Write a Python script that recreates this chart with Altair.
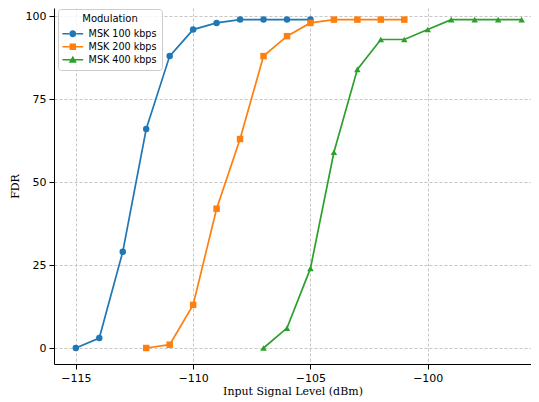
import altair as alt
import pandas as pd

series = ["MSK 100 kbps", "MSK 200 kbps", "MSK 400 kbps"]
colors = ["#1f77b4", "#ff7f0e", "#2ca02c"]
shapes = ["circle", "square", "triangle-up"]

x_100 = [-115, -114, -113, -112, -111, -110, -109, -108, -107, -106, -105]
fdr_100 = [0, 3, 29, 66, 88, 96, 98, 99, 99, 99, 99]
x_200 = [-112, -111, -110, -109, -108, -107, -106, -105, -104, -103, -102, -101]
fdr_200 = [0, 1, 13, 42, 63, 88, 94, 98, 99, 99, 99, 99]
x_400 = [-107, -106, -105, -104, -103, -102, -101, -100, -99, -98, -97, -96]
fdr_400 = [0, 6, 24, 59, 84, 93, 93, 96, 99, 99, 99, 99]

x_ticks = [-115, -110, -105, -100]
y_ticks = [0, 25, 50, 75, 100]

rows = []
for name, xs, ys in [(series[0], x_100, fdr_100), (series[1], x_200, fdr_200), (series[2], x_400, fdr_400)]:
    for i, (xv, yv) in enumerate(zip(xs, ys)):
        rows.append({"Modulation": name, "x": xv, "FDR": yv, "order": i})
df = pd.DataFrame(rows)

# legend symbols: line segment + marker (custom paths)
leg_paths = [
    "M-2.6,-0.19H-0.8V0.19H-2.6Z M0.8,-0.19H2.6V0.19H0.8Z M-0.875,0A0.875,0.875 0 1,0 0.875,0A0.875,0.875 0 1,0 -0.875,0Z",
    "M-2.6,-0.19H-0.8V0.19H-2.6Z M0.8,-0.19H2.6V0.19H0.8Z M-0.8,-0.8H0.8V0.8H-0.8Z",
    "M-2.6,-0.19H-0.5V0.19H-2.6Z M0.5,-0.19H2.6V0.19H0.5Z M0,-1L1,0.75L-1,0.75Z",
]

xscale = alt.Scale(domain=[-115.93, -95.6], nice=False, zero=False)
yscale = alt.Scale(domain=[-4.82, 102.5], nice=False, zero=False)
cscale = alt.Scale(domain=series, range=colors)

xenc = alt.X("x:Q", scale=xscale, title="Input Signal Level (dBm)",
             axis=alt.Axis(values=x_ticks, format="d"))
yenc = alt.Y("FDR:Q", scale=yscale, title="FDR",
             axis=alt.Axis(values=y_ticks, format="d"))

base = alt.Chart(df)

lines = base.mark_line(strokeWidth=1.7, clip=True).encode(
    x=xenc, y=yenc,
    color=alt.Color("Modulation:N", scale=cscale, legend=None),
    order="order:Q",
)

points = base.mark_point(filled=True, opacity=1, size=42).encode(
    x=xenc, y=yenc,
    color=alt.Color("Modulation:N", scale=cscale, legend=None),
    shape=alt.Shape("Modulation:N", scale=alt.Scale(domain=series, range=shapes), legend=None),
)

leg = alt.Legend(
    orient="none", legendX=4, legendY=1, title="Modulation",
    titleAnchor="middle", titleFont="DejaVu Sans", titleFontSize=10,
    titleFontWeight="normal", titleColor="black",
    labelFont="DejaVu Sans", labelFontSize=9.6, labelColor="black",
    symbolSize=64, symbolOffset=5, labelOffset=11,
    fillColor="rgba(255,255,255,0.8)", strokeColor="#cccccc",
    cornerRadius=3, padding=5, rowPadding=2, symbolStrokeWidth=0,
)

legend_layer = base.transform_filter("false").transform_calculate(
    Legend="datum.Modulation"
).mark_point(filled=True, opacity=1).encode(
    x=xenc, y=yenc,
    color=alt.Color("Legend:N", scale=alt.Scale(domain=series, range=colors), legend=leg),
    shape=alt.Shape("Legend:N", scale=alt.Scale(domain=series, range=leg_paths), legend=leg),
)

chart = alt.layer(lines, points, legend_layer).resolve_scale(
    color="independent", shape="independent"
).properties(
    width=477, height=356,
    autosize=alt.AutoSizeParams(type="none"),
    padding={"left": 46, "top": 0, "right": 0, "bottom": 38},
).configure_view(stroke=None).configure_axis(
    labelFont="DejaVu Sans", labelFontSize=11, labelColor="black",
    titleFont="DejaVu Serif", titleFontSize=11, titleFontWeight="normal", titleColor="black",
    domainColor="black", domainWidth=1, tickColor="black", tickSize=5, tickWidth=1,
    labelPadding=3, gridColor="#b8b8b8", gridDash=[3, 2], gridWidth=0.8,
).configure_axisX(titlePadding=2).configure_axisY(titlePadding=5)

chart.save("out.html", embed_options={"renderer": "svg", "actions": False})
